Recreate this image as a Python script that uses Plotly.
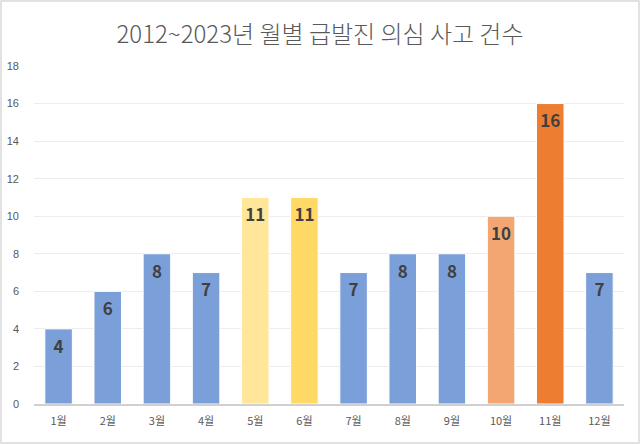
import plotly.graph_objects as go

months = ["1월", "2월", "3월", "4월", "5월", "6월", "7월", "8월", "9월", "10월", "11월", "12월"]
counts = [4, 6, 8, 7, 11, 11, 7, 8, 8, 10, 16, 7]
bar_colors = ["#7B9FD8", "#7B9FD8", "#7B9FD8", "#7B9FD8", "#FFE699", "#FFD966",
              "#7B9FD8", "#7B9FD8", "#7B9FD8", "#F3A671", "#ED7D31", "#7B9FD8"]

FONT = "Noto Sans CJK KR"
ML, MR, MT, MB = 34, 16, 66, 40
PW, PH = 640 - ML - MR, 444 - MT - MB

fig = go.Figure()
fig.add_trace(go.Bar(
    x=months,
    y=counts,
    marker=dict(color=bar_colors, line=dict(color="white", width=1)),
    width=0.56,
    hoverinfo="x+y",
))
# value labels just under the top of each bar
fig.add_trace(go.Scatter(
    x=months,
    y=counts,
    mode="markers+text",
    marker=dict(size=16, opacity=0),
    text=counts,
    textposition="bottom center",
    textfont=dict(family=FONT, size=17, color="#404040", weight="bold"),
    hoverinfo="skip",
    cliponaxis=False,
))

fig.update_layout(
    width=640, height=444,
    margin=dict(l=ML, r=MR, t=MT, b=MB, autoexpand=False),
    paper_bgcolor="white",
    plot_bgcolor="white",
    title=dict(text="2012~2023년 월별 급발진 의심 사고 건수", x=0.5, xanchor="center",
               y=1 - 35 / 444, yanchor="middle", automargin=False,
               font=dict(family=FONT, size=24, color="#595959", weight=300)),
    font=dict(family=FONT, size=11, color="#595959"),
    showlegend=False,
    bargap=0.44,
)

fig.update_yaxes(range=[0, 18], dtick=2, showgrid=True, gridcolor="#EDEDED", gridwidth=1,
                 zeroline=False, showline=False, ticks="", ticklabelstandoff=14, automargin=False,
                 tickfont=dict(family="Liberation Sans", size=11, color="#595959"))
fig.update_xaxes(range=[-0.5, len(months) - 0.5], showline=True, linecolor="#D0D0D0", linewidth=1.5,
                 ticks="", automargin=False, ticklabelstandoff=6,
                 tickfont=dict(family=FONT, size=11, color="#595959"))

# outer border around the whole chart
fig.add_shape(type="rect", xref="x domain", yref="y domain",
              x0=-(ML - 1) / PW, x1=1 + (MR - 1) / PW, y0=-(MB - 1) / PH, y1=1 + (MT - 1) / PH,
              line=dict(color="#D9D9D9", width=1.5))

fig.write_html("out.html", config={"displayModeBar": False},
               post_script="document.body.style.margin='0';")
